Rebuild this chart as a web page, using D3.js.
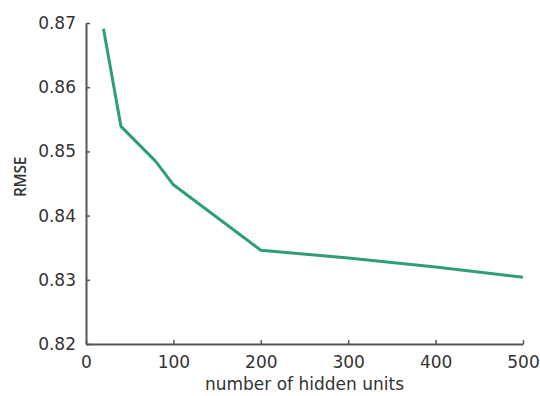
<!DOCTYPE html>
<html>
<head>
<meta charset="utf-8">
<script src="https://cdn.jsdelivr.net/npm/d3@7"></script>
<style>
  body { margin: 0; background: #fff; }
  text { font-family: "DejaVu Sans", sans-serif; fill: #333; }
</style>
</head>
<body>
<div id="chart"></div>
<script>
const hiddenUnits = [20, 40, 80, 100, 200, 300, 400, 500];
const rmse = [0.8691, 0.8539, 0.8484, 0.8448, 0.8346, 0.8334, 0.8320, 0.8304];
const xTicks = [0, 100, 200, 300, 400, 500];
const yTicks = [0.82, 0.83, 0.84, 0.85, 0.86, 0.87];

const width = 540, height = 396;
const margin = {top: 23, right: 17, bottom: 52, left: 86};

const svg = d3.select("#chart").append("svg")
  .attr("width", width)
  .attr("height", height);

const x = d3.scaleLinear().domain([0, 500]).range([margin.left, width - margin.right]);
const y = d3.scaleLinear().domain([0.82, 0.87]).range([height - margin.bottom, margin.top]);

// axes, ticks pointing inward
const xAxis = svg.append("g")
  .attr("transform", `translate(0,${height - margin.bottom})`)
  .call(d3.axisBottom(x).tickValues(xTicks).tickFormat(d3.format("d")).tickSizeInner(-4).tickSizeOuter(0).tickPadding(12));

const yAxis = svg.append("g")
  .attr("transform", `translate(${margin.left},0)`)
  .call(d3.axisLeft(y).tickValues(yTicks).tickFormat(d3.format(".2f")).tickSizeInner(-4).tickSizeOuter(0).tickPadding(10));

[xAxis, yAxis].forEach(g => {
  g.select(".domain").attr("stroke", "#555").attr("stroke-width", 2);
  g.selectAll(".tick line").attr("stroke", "#555").attr("stroke-width", 1.5);
  g.selectAll(".tick text").attr("font-size", 17).attr("fill", "#333")
    .attr("font-family", "DejaVu Sans, sans-serif");
});

svg.append("path")
  .datum(hiddenUnits.map((d, i) => [d, rmse[i]]))
  .attr("fill", "none")
  .attr("stroke", "#2e9e78")
  .attr("stroke-width", 3)
  .attr("stroke-linejoin", "round")
  .attr("d", d3.line().x(d => x(d[0])).y(d => y(d[1])));

svg.append("text")
  .attr("x", x(250))
  .attr("y", 390)
  .attr("text-anchor", "middle")
  .attr("font-size", 17)
  .text("number of hidden units");

svg.append("text")
  .attr("transform", "translate(26,177) rotate(-90)")
  .attr("text-anchor", "middle")
  .style("font-family", "'Open Sans', sans-serif")
  .style("font-size", "15.5px")
  .style("font-weight", 600)
  .style("letter-spacing", "-0.4px")
  .attr("fill", "#333")
  .text("RMSE");
</script>
</body>
</html>
